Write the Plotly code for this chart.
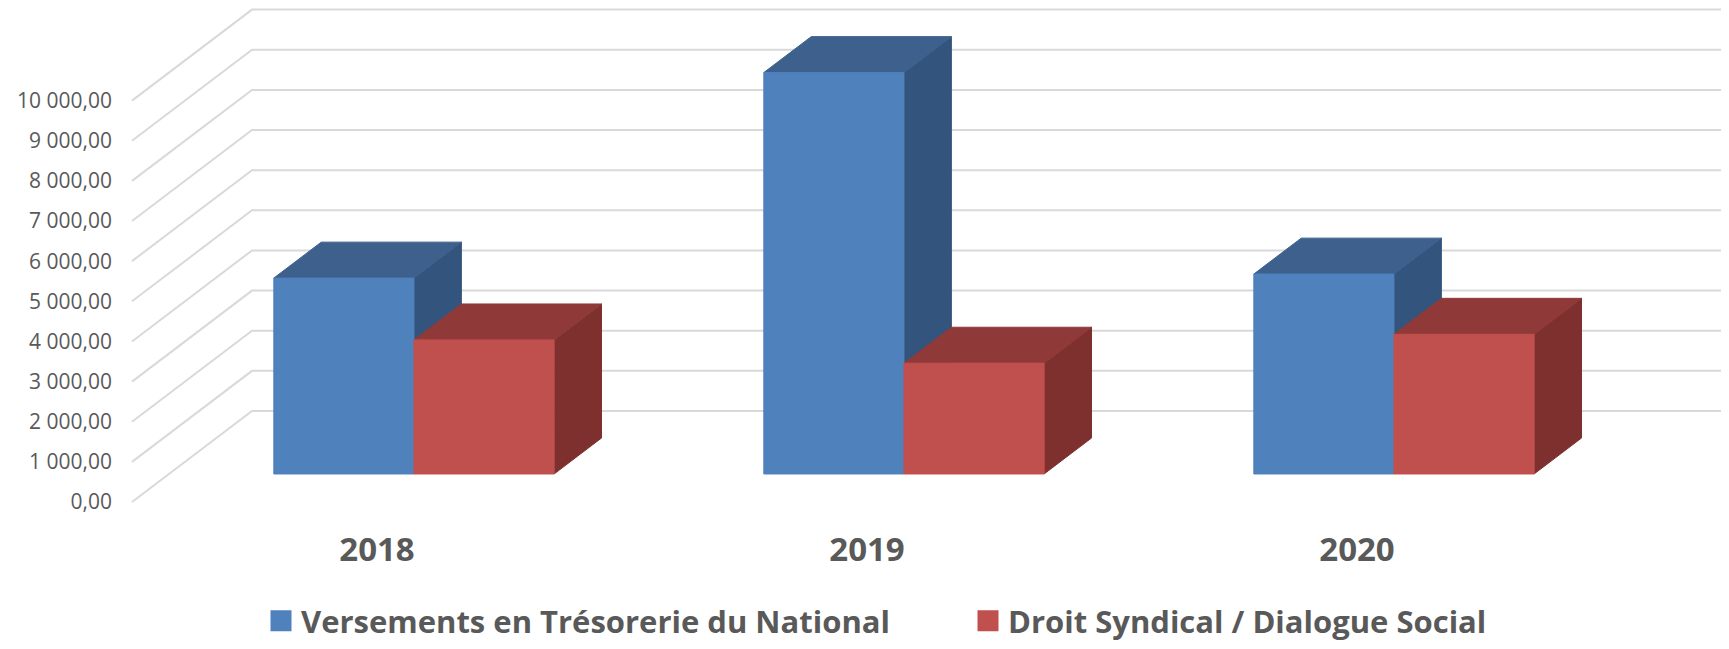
import plotly.graph_objects as go

# ---------------- data ----------------
categories = ["2018", "2019", "2020"]
series_names = ["Versements en Trésorerie du National", "Droit Syndical / Dialogue Social"]
versements = [4880, 10000, 4980]
droit_syndical = [3340, 2760, 3480]
tick_values = [0, 1000, 2000, 3000, 4000, 5000, 6000, 7000, 8000, 9000, 10000]

# ---------------- styling / geometry constants ----------------
W, H = 1729, 649
BODY_OFFSET = 8             # default page margin of the browser
PX_PER_CAT = 490.0          # pixels per category unit
PX_PER_VAL = 40.14 / 1000   # pixels per value unit
DEPTH_PX_X = 120.0          # oblique depth shift (full floor depth), px
DEPTH_PX_Y = 91.0
DX = DEPTH_PX_X / PX_PER_CAT
DY = DEPTH_PX_Y / PX_PER_VAL
BAR_W = 0.286
D_FRONT = 0.308
D_BACK = 0.703
CAT_CENTER_PX = 377.0 - BODY_OFFSET
ZERO_PX = 502.0 - BODY_OFFSET
MARGIN_L = 120 - BODY_OFFSET
MARGIN_B = 130 + BODY_OFFSET
FONT = "Open Sans"

colors = {
    0: dict(front="#4F81BD", top="#3D618C", side="#33547C"),
    1: dict(front="#C0504D", top="#8F3A39", side="#7E302F"),
}
TEXT = "#595959"
GRID = "#D9D9D9"


def proj(x, v, d):
    return x + d * DX, v + d * DY


def poly(points):
    xs, ys = zip(*[proj(*p) for p in points])
    return list(xs) + [xs[0]], list(ys) + [ys[0]]


fig = go.Figure()

# gridlines: floor/side diagonal + back wall
gx, gy = [], []
for v in tick_values:
    for p in [(-0.5, v, 0.0), (-0.5, v, 1.0), (len(categories) - 0.5, v, 1.0)]:
        px_, py_ = proj(*p)
        gx.append(px_)
        gy.append(py_)
    gx.append(None)
    gy.append(None)
fig.add_trace(go.Scatter(x=gx, y=gy, mode="lines", line=dict(color=GRID, width=2),
                         hoverinfo="skip", showlegend=False))

# 3D bars
all_series = [versements, droit_syndical]
for ci in range(len(categories)):
    for si, vals in enumerate(all_series):
        v = vals[ci]
        x0 = ci - BAR_W + si * BAR_W
        x1 = x0 + BAR_W
        c = colors[si]
        faces = [
            ("side", [(x1, 0, D_FRONT), (x1, 0, D_BACK), (x1, v, D_BACK), (x1, v, D_FRONT)]),
            ("top", [(x0, v, D_FRONT), (x1, v, D_FRONT), (x1, v, D_BACK), (x0, v, D_BACK)]),
            ("front", [(x0, 0, D_FRONT), (x1, 0, D_FRONT), (x1, v, D_FRONT), (x0, v, D_FRONT)]),
        ]
        for name, pts in faces:
            xs, ys = poly(pts)
            fig.add_trace(go.Scatter(
                x=xs, y=ys, mode="lines", fill="toself", fillcolor=c[name],
                line=dict(color=c[name], width=1), hoverinfo="skip", showlegend=False))

# legend entries
for si, name in enumerate(series_names):
    fig.add_trace(go.Scatter(
        x=[None], y=[None], mode="markers", name=name,
        marker=dict(symbol="square", size=16, color=colors[si]["front"],
                    line=dict(color=colors[si]["front"], width=5))))

plot_h = H - MARGIN_B
x_lo = (MARGIN_L - CAT_CENTER_PX) / PX_PER_CAT
x_hi = (W - CAT_CENTER_PX) / PX_PER_CAT
y_hi = ZERO_PX / PX_PER_VAL
y_lo = (ZERO_PX - plot_h) / PX_PER_VAL

fig.update_layout(
    width=W, height=H,
    margin=dict(l=MARGIN_L, r=0, t=0, b=MARGIN_B, pad=0),
    paper_bgcolor="white", plot_bgcolor="white",
    separators=", ",
    font=dict(family=FONT, color=TEXT),
    xaxis=dict(range=[x_lo, x_hi], tickvals=list(range(len(categories))), ticktext=categories,
               showgrid=False, zeroline=False, showline=False, ticks="",
               tickfont=dict(family=FONT, size=33, color=TEXT, weight="bold"),
               ticklabelstandoff=8, fixedrange=True),
    yaxis=dict(range=[y_lo, y_hi], tickvals=tick_values, tickformat=",.2f",
               showgrid=False, zeroline=False, showline=False, ticks="",
               tickfont=dict(family=FONT, size=21, color=TEXT),
               ticklabelstandoff=7, fixedrange=True),
    showlegend=True,
    legend=dict(orientation="h", xref="container", yref="container",
                x=253 / W, y=(H - 613) / H, xanchor="left", yanchor="middle",
                font=dict(family=FONT, size=31, color=TEXT, weight="bold"),
                entrywidth=662, entrywidthmode="pixels", bgcolor="rgba(0,0,0,0)"),
)

fig.write_html("out.html")
